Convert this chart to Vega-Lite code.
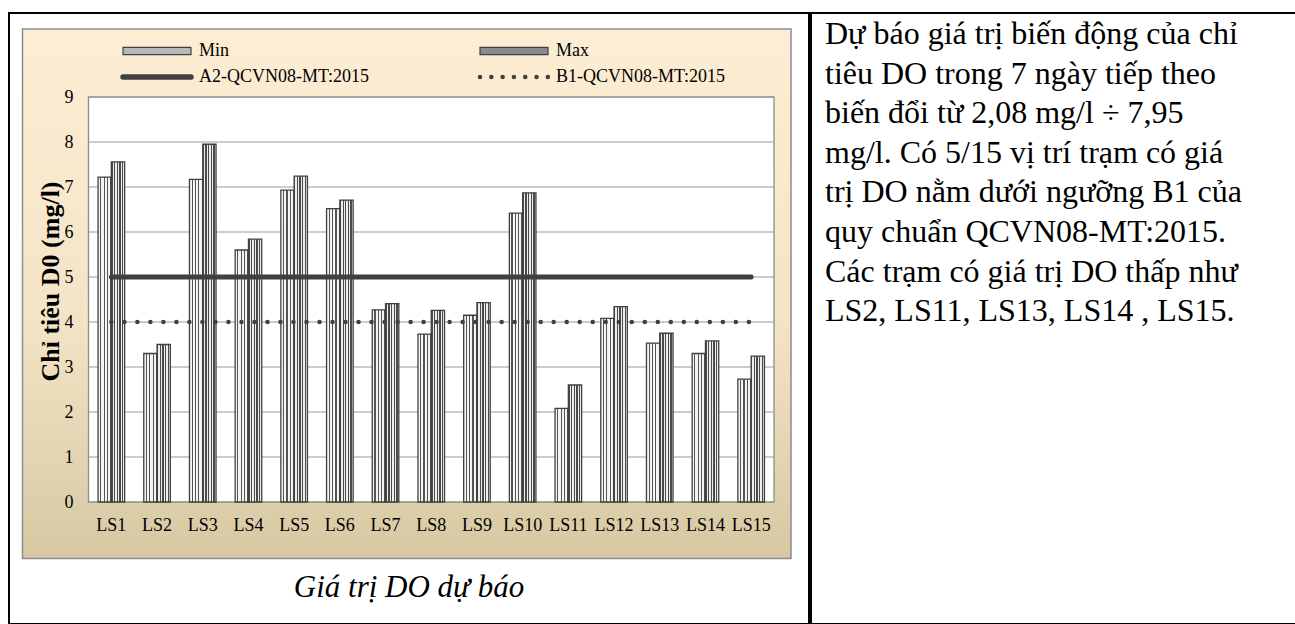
{
  "$schema": "https://vega.github.io/schema/vega-lite/v6.json",
  "background": "white",
  "padding": {"left": 8, "top": 12, "right": 0, "bottom": 0},
  "spacing": 0,
  "datasets": {
    "bars": [
      {"station": "LS1", "series": "Min", "value": 7.22}, {"station": "LS1", "series": "Max", "value": 7.56},
      {"station": "LS2", "series": "Min", "value": 3.30}, {"station": "LS2", "series": "Max", "value": 3.50},
      {"station": "LS3", "series": "Min", "value": 7.17}, {"station": "LS3", "series": "Max", "value": 7.95},
      {"station": "LS4", "series": "Min", "value": 5.60}, {"station": "LS4", "series": "Max", "value": 5.84},
      {"station": "LS5", "series": "Min", "value": 6.93}, {"station": "LS5", "series": "Max", "value": 7.24},
      {"station": "LS6", "series": "Min", "value": 6.52}, {"station": "LS6", "series": "Max", "value": 6.71},
      {"station": "LS7", "series": "Min", "value": 4.27}, {"station": "LS7", "series": "Max", "value": 4.41},
      {"station": "LS8", "series": "Min", "value": 3.73}, {"station": "LS8", "series": "Max", "value": 4.26},
      {"station": "LS9", "series": "Min", "value": 4.15}, {"station": "LS9", "series": "Max", "value": 4.43},
      {"station": "LS10", "series": "Min", "value": 6.42}, {"station": "LS10", "series": "Max", "value": 6.87},
      {"station": "LS11", "series": "Min", "value": 2.08}, {"station": "LS11", "series": "Max", "value": 2.60},
      {"station": "LS12", "series": "Min", "value": 4.08}, {"station": "LS12", "series": "Max", "value": 4.34},
      {"station": "LS13", "series": "Min", "value": 3.53}, {"station": "LS13", "series": "Max", "value": 3.75},
      {"station": "LS14", "series": "Min", "value": 3.30}, {"station": "LS14", "series": "Max", "value": 3.58},
      {"station": "LS15", "series": "Min", "value": 2.73}, {"station": "LS15", "series": "Max", "value": 3.24}
    ],
    "lines": [
      {"station": "LS1", "series": "A2-QCVN08-MT:2015", "value": 5}, {"station": "LS2", "series": "A2-QCVN08-MT:2015", "value": 5},
      {"station": "LS3", "series": "A2-QCVN08-MT:2015", "value": 5}, {"station": "LS4", "series": "A2-QCVN08-MT:2015", "value": 5},
      {"station": "LS5", "series": "A2-QCVN08-MT:2015", "value": 5}, {"station": "LS6", "series": "A2-QCVN08-MT:2015", "value": 5},
      {"station": "LS7", "series": "A2-QCVN08-MT:2015", "value": 5}, {"station": "LS8", "series": "A2-QCVN08-MT:2015", "value": 5},
      {"station": "LS9", "series": "A2-QCVN08-MT:2015", "value": 5}, {"station": "LS10", "series": "A2-QCVN08-MT:2015", "value": 5},
      {"station": "LS11", "series": "A2-QCVN08-MT:2015", "value": 5}, {"station": "LS12", "series": "A2-QCVN08-MT:2015", "value": 5},
      {"station": "LS13", "series": "A2-QCVN08-MT:2015", "value": 5}, {"station": "LS14", "series": "A2-QCVN08-MT:2015", "value": 5},
      {"station": "LS15", "series": "A2-QCVN08-MT:2015", "value": 5},
      {"station": "LS1", "series": "B1-QCVN08-MT:2015", "value": 4}, {"station": "LS2", "series": "B1-QCVN08-MT:2015", "value": 4},
      {"station": "LS3", "series": "B1-QCVN08-MT:2015", "value": 4}, {"station": "LS4", "series": "B1-QCVN08-MT:2015", "value": 4},
      {"station": "LS5", "series": "B1-QCVN08-MT:2015", "value": 4}, {"station": "LS6", "series": "B1-QCVN08-MT:2015", "value": 4},
      {"station": "LS7", "series": "B1-QCVN08-MT:2015", "value": 4}, {"station": "LS8", "series": "B1-QCVN08-MT:2015", "value": 4},
      {"station": "LS9", "series": "B1-QCVN08-MT:2015", "value": 4}, {"station": "LS10", "series": "B1-QCVN08-MT:2015", "value": 4},
      {"station": "LS11", "series": "B1-QCVN08-MT:2015", "value": 4}, {"station": "LS12", "series": "B1-QCVN08-MT:2015", "value": 4},
      {"station": "LS13", "series": "B1-QCVN08-MT:2015", "value": 4}, {"station": "LS14", "series": "B1-QCVN08-MT:2015", "value": 4},
      {"station": "LS15", "series": "B1-QCVN08-MT:2015", "value": 4}
    ],
    "grid": [{"v": 1}, {"v": 2}, {"v": 3}, {"v": 4}, {"v": 5}, {"v": 6}, {"v": 7}, {"v": 8}],
    "para": [
      {"line": 1, "text": "Dự báo giá trị biến động của chỉ"},
      {"line": 2, "text": "tiêu DO trong 7 ngày tiếp theo"},
      {"line": 3, "text": "biến đổi từ 2,08 mg/l ÷ 7,95"},
      {"line": 4, "text": "mg/l. Có 5/15 vị trí trạm có giá"},
      {"line": 5, "text": "trị DO nằm dưới ngưỡng B1 của"},
      {"line": 6, "text": "quy chuẩn QCVN08-MT:2015."},
      {"line": 7, "text": "Các trạm có giá trị DO thấp như"},
      {"line": 8, "text": "LS2, LS11, LS13, LS14 , LS15."}
    ]
  },
  "hconcat": [
    {
      "width": 800,
      "height": 611,
      "title": {"text": "Giá trị DO dự báo", "orient": "bottom", "anchor": "middle", "frame": "group", "offset": -27, "font": "Liberation Serif", "fontSize": 31, "fontStyle": "italic", "fontWeight": "normal", "color": "black", "baseline": "alphabetic"},
      "layer": [
        {
          "data": {"values": [{"area": "chart"}]},
          "mark": {"type": "rect", "fill": {"gradient": "linear", "x1": 0, "y1": 0, "x2": 0, "y2": 1, "stops": [{"offset": 0, "color": "#FDEDD4"}, {"offset": 0.55, "color": "#F4E4C6"}, {"offset": 1, "color": "#D7C8A3"}]}, "stroke": "#8c8c8c", "strokeWidth": 1.5, "xOffset": -66, "x2Offset": 17, "yOffset": 56.5, "y2Offset": -68},
          "encoding": {
            "x": {"datum": "LS1", "type": "nominal", "bandPosition": 0,
              "scale": {"type": "band", "domain": ["LS1","LS2","LS3","LS4","LS5","LS6","LS7","LS8","LS9","LS10","LS11","LS12","LS13","LS14","LS15"], "range": [79.5, 765], "paddingInner": 0, "paddingOuter": 0},
              "axis": {"orient": "bottom", "offset": -122, "zindex": 2, "title": null, "domain": false, "ticks": false, "grid": false, "labelAngle": 0, "labelPadding": 14, "labelFont": "Liberation Serif", "labelFontSize": 18, "labelColor": "black"}},
            "x2": {"datum": "LS15", "bandPosition": 1},
            "y": {"datum": 0, "type": "quantitative",
              "scale": {"domain": [0, 9], "range": [489, 84], "nice": false, "zero": false},
              "axis": {"orient": "left", "offset": -79.5, "zindex": 2, "title": "Chỉ tiêu D0 (mg/l)", "values": [0,1,2,3,4,5,6,7,8,9], "format": "d", "domain": false, "ticks": false, "grid": false, "labelPadding": 15.5, "labelFont": "Liberation Serif", "labelFontSize": 18, "labelColor": "black", "titleFont": "Liberation Serif", "titleFontSize": 26, "titleFontWeight": "bold", "titleColor": "black", "titleX": -38, "titleY": 268, "titleBaseline": "middle"}},
            "y2": {"datum": 9}
          }
        },
        {
          "data": {"values": [{"area": "plot"}]},
          "mark": {"type": "rect", "fill": "white", "stroke": "#8c8c8c", "strokeWidth": 1.3},
          "encoding": {
            "x": {"datum": "LS1", "type": "nominal", "bandPosition": 0},
            "x2": {"datum": "LS15", "bandPosition": 1},
            "y": {"datum": 0, "type": "quantitative"},
            "y2": {"datum": 9}
          }
        },
        {
          "data": {"name": "grid"},
          "mark": {"type": "rule", "stroke": "#999999", "strokeWidth": 1.2},
          "encoding": {
            "x": {"datum": "LS1", "type": "nominal", "bandPosition": 0},
            "x2": {"datum": "LS15", "bandPosition": 1},
            "y": {"field": "v", "type": "quantitative"}
          }
        },
        {
          "data": {"name": "bars"},
          "transform": [{"filter": "datum.series === 'Min'"}],
          "mark": {"type": "bar", "stroke": "#404040", "strokeWidth": 1.3,
            "fill": {"gradient": "linear", "x1": 0, "y1": 0, "x2": 1, "y2": 0, "stops": [
                    {"offset": 0, "color": "#f4f4f4"}, {"offset": 0.16, "color": "#f4f4f4"}, {"offset": 0.16, "color": "#555555"}, {"offset": 0.25, "color": "#555555"},
                    {"offset": 0.25, "color": "#f4f4f4"}, {"offset": 0.41, "color": "#f4f4f4"}, {"offset": 0.41, "color": "#555555"}, {"offset": 0.5, "color": "#555555"},
                    {"offset": 0.5, "color": "#f4f4f4"}, {"offset": 0.66, "color": "#f4f4f4"}, {"offset": 0.66, "color": "#555555"}, {"offset": 0.75, "color": "#555555"},
                    {"offset": 0.75, "color": "#f4f4f4"}, {"offset": 0.91, "color": "#f4f4f4"}, {"offset": 0.91, "color": "#555555"}, {"offset": 1, "color": "#555555"}]}},
          "encoding": {
            "x": {"field": "station", "type": "nominal"},
            "xOffset": {"field": "series", "type": "nominal", "scale": {"type": "band", "domain": ["Min", "Max"], "paddingInner": 0, "paddingOuter": 0.72}},
            "y": {"field": "value", "type": "quantitative"}
          }
        },
        {
          "data": {"name": "bars"},
          "transform": [{"filter": "datum.series === 'Max'"}],
          "mark": {"type": "bar", "stroke": "#404040", "strokeWidth": 1.3,
            "fill": {"gradient": "linear", "x1": 0, "y1": 0, "x2": 1, "y2": 0, "stops": [
                    {"offset": 0, "color": "#4a4a4a"}, {"offset": 0.1, "color": "#4a4a4a"}, {"offset": 0.1, "color": "#eeeeee"}, {"offset": 0.2, "color": "#eeeeee"},
                    {"offset": 0.2, "color": "#4a4a4a"}, {"offset": 0.3, "color": "#4a4a4a"}, {"offset": 0.3, "color": "#eeeeee"}, {"offset": 0.4, "color": "#eeeeee"},
                    {"offset": 0.4, "color": "#4a4a4a"}, {"offset": 0.5, "color": "#4a4a4a"}, {"offset": 0.5, "color": "#eeeeee"}, {"offset": 0.6, "color": "#eeeeee"},
                    {"offset": 0.6, "color": "#4a4a4a"}, {"offset": 0.7, "color": "#4a4a4a"}, {"offset": 0.7, "color": "#eeeeee"}, {"offset": 0.8, "color": "#eeeeee"},
                    {"offset": 0.8, "color": "#4a4a4a"}, {"offset": 0.9, "color": "#4a4a4a"}, {"offset": 0.9, "color": "#eeeeee"}, {"offset": 1, "color": "#eeeeee"}]}},
          "encoding": {
            "x": {"field": "station", "type": "nominal"},
            "xOffset": {"field": "series", "type": "nominal"},
            "y": {"field": "value", "type": "quantitative"}
          }
        },
        {
          "data": {"name": "lines"},
          "transform": [{"filter": "datum.series === 'A2-QCVN08-MT:2015'"}],
          "mark": {"type": "line", "strokeWidth": 5, "strokeCap": "round"},
          "encoding": {
            "x": {"field": "station", "type": "nominal"},
            "y": {"field": "value", "type": "quantitative"},
            "stroke": {"field": "series", "type": "nominal",
              "scale": {"domain": ["Min", "Max", "A2-QCVN08-MT:2015", "B1-QCVN08-MT:2015"], "range": ["#404040", "#404040", "#404040", "#404040"]},
              "legend": {"title": null, "orient": "none", "direction": "horizontal", "legendX": 114, "legendY": 29, "columns": 2, "columnPadding": 101, "rowPadding": 6, "padding": 0,
                "symbolSize": 4624, "labelFont": "Liberation Serif", "labelFontSize": 18, "labelColor": "black", "labelLimit": 400,
                "encode": {
                  "symbols": {"update": {
                    "x": {"value": 34},
                    "shape": {"signal": "datum.value === 'Min' || datum.value === 'Max' ? 'M-1,-0.105H1V0.105H-1Z' : 'stroke'"},
                    "fill": {"signal": "datum.value === 'Min' ? '#b8b8b8' : datum.value === 'Max' ? '#8a8a8a' : 'transparent'"},
                    "strokeWidth": {"signal": "datum.value === 'Min' || datum.value === 'Max' ? 1.2 : datum.value === 'B1-QCVN08-MT:2015' ? 4.5 : 5.5"},
                    "strokeDash": {"signal": "datum.value === 'B1-QCVN08-MT:2015' ? [0.01, 11.3] : [1, 0]"},
                    "strokeCap": {"value": "round"}
                  }},
                  "labels": {"update": {"x": {"value": 76}}}
                }}
            }
          }
        },
        {
          "data": {"name": "lines"},
          "transform": [{"filter": "datum.series === 'B1-QCVN08-MT:2015'"}],
          "mark": {"type": "line", "strokeWidth": 4.5, "strokeCap": "round", "strokeDash": [0.01, 13]},
          "encoding": {
            "x": {"field": "station", "type": "nominal"},
            "y": {"field": "value", "type": "quantitative"},
            "stroke": {"field": "series", "type": "nominal"}
          }
        }
      ]
    },
    {
      "width": 486,
      "height": 611,
      "data": {"name": "para"},
      "mark": {"type": "text", "align": "left", "baseline": "alphabetic", "dx": 14, "font": "Liberation Serif", "fontSize": 32, "color": "black"},
      "encoding": {
        "x": {"datum": 0, "type": "quantitative", "scale": {"domain": [0, 1]}, "axis": null},
        "y": {"field": "line", "type": "quantitative", "scale": {"domain": [1, 8], "range": [31, 308.2]}, "axis": null},
        "text": {"field": "text"}
      }
    }
  ],
  "config": {
    "view": {"stroke": "black", "strokeWidth": 2, "fill": "white"},
    "font": "Liberation Serif"
  }
}
